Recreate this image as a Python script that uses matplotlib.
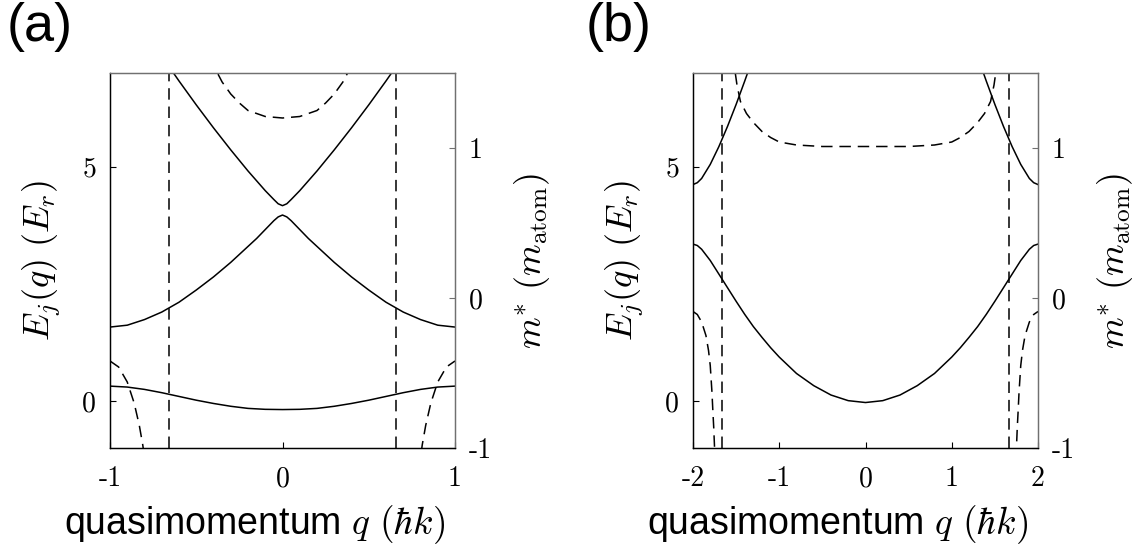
import numpy as np
import matplotlib
matplotlib.use("Agg")
import matplotlib.pyplot as plt

plt.rcParams["mathtext.fontset"] = "cm"
plt.rcParams["axes.unicode_minus"] = False

# ─────────────────────────────────────────────────────────────────────────────
# DATA
# ─────────────────────────────────────────────────────────────────────────────
# panel (a): q in [-1, 1]
QA1 = [-1.0, -0.9, -0.8, -0.7, -0.6, -0.5, -0.4, -0.3, -0.2, -0.1, 0.0,
       0.1, 0.2, 0.3, 0.4, 0.5, 0.6, 0.7, 0.8, 0.9, 1.0]
EA1 = [0.32, 0.30, 0.25, 0.18, 0.10, 0.02, -0.05, -0.11, -0.155, -0.175, -0.18,
       -0.175, -0.155, -0.11, -0.05, 0.02, 0.10, 0.18, 0.25, 0.30, 0.32]

QA2 = [-1.0, -0.9, -0.8, -0.7, -0.6, -0.5, -0.4, -0.3, -0.2, -0.15, -0.1, -0.05, -0.025, 0.0,
       0.025, 0.05, 0.1, 0.15, 0.2, 0.3, 0.4, 0.5, 0.6, 0.7, 0.8, 0.9, 1.0]
EA2 = [1.58, 1.62, 1.74, 1.90, 2.11, 2.37, 2.65, 2.96, 3.30, 3.47, 3.66, 3.85, 3.93, 3.97,
       3.93, 3.85, 3.66, 3.47, 3.30, 2.96, 2.65, 2.37, 2.11, 1.90, 1.74, 1.62, 1.58]

QA3 = [-0.7, -0.6, -0.5, -0.4, -0.3, -0.2, -0.15, -0.1, -0.05, -0.025, 0.0,
       0.025, 0.05, 0.1, 0.15, 0.2, 0.3, 0.4, 0.5, 0.6, 0.7]
EA3 = [7.36, 6.83, 6.32, 5.83, 5.36, 4.91, 4.70, 4.49, 4.30, 4.21, 4.17,
       4.21, 4.30, 4.49, 4.70, 4.91, 5.36, 5.83, 6.32, 6.83, 7.36]

# effective mass of the lowest band, panel (a)
QAM_L = [-1.0, -0.95, -0.9, -0.86, -0.83, -0.81, -0.79]
MA_L  = [-0.42, -0.46, -0.56, -0.70, -0.85, -0.98, -1.15]
QAM_C = [-0.45, -0.4, -0.35, -0.3, -0.25, -0.2, -0.1, 0.0, 0.1, 0.2, 0.25, 0.3, 0.35, 0.4, 0.45]
MA_C  = [1.72, 1.55, 1.44, 1.36, 1.30, 1.25, 1.21, 1.20, 1.21, 1.25, 1.30, 1.36, 1.44, 1.55, 1.72]
QAM_R = [0.79, 0.81, 0.83, 0.86, 0.9, 0.95, 1.0]
MA_R  = [-1.15, -0.98, -0.85, -0.70, -0.56, -0.46, -0.42]
QA_DIV = [-0.658, 0.658]

# panel (b): q in [-2, 2]
QB1 = [-2.0, -1.95, -1.9, -1.8, -1.7, -1.6, -1.5, -1.4, -1.3, -1.2, -1.1, -1.0, -0.8, -0.6, -0.4, -0.2, 0.0,
       0.2, 0.4, 0.6, 0.8, 1.0, 1.1, 1.2, 1.3, 1.4, 1.5, 1.6, 1.7, 1.8, 1.9, 1.95, 2.0]
EB1 = [3.35, 3.32, 3.24, 3.00, 2.71, 2.42, 2.13, 1.85, 1.59, 1.36, 1.14, 0.94, 0.59, 0.33, 0.13, 0.01, -0.03,
       0.01, 0.13, 0.33, 0.59, 0.94, 1.14, 1.36, 1.59, 1.85, 2.13, 2.42, 2.71, 3.00, 3.24, 3.32, 3.35]

QB2_L = [-2.0, -1.95, -1.9, -1.8, -1.7, -1.6, -1.5, -1.4, -1.3]
EB2_L = [4.62, 4.66, 4.75, 5.05, 5.43, 5.86, 6.33, 6.83, 7.35]
QB2_R = [1.3, 1.4, 1.5, 1.6, 1.7, 1.8, 1.9, 1.95, 2.0]
EB2_R = [7.35, 6.83, 6.33, 5.86, 5.43, 5.05, 4.75, 4.66, 4.62]

QBM_L = [-2.0, -1.95, -1.9, -1.85, -1.82, -1.8, -1.78, -1.77, -1.76, -1.75, -1.74]
MB_L  = [-0.09, -0.11, -0.16, -0.25, -0.35, -0.45, -0.63, -0.75, -0.86, -1.0, -1.2]
QBM_C = [-1.53, -1.51, -1.49, -1.45, -1.38, -1.3, -1.2, -1.1, -1.0, -0.8, -0.5, 0.0,
         0.5, 0.8, 1.0, 1.1, 1.2, 1.3, 1.38, 1.45, 1.49, 1.51, 1.53]
MB_C  = [1.62, 1.50, 1.42, 1.31, 1.23, 1.17, 1.11, 1.07, 1.04, 1.02, 1.01, 1.01,
         1.01, 1.02, 1.04, 1.07, 1.11, 1.17, 1.23, 1.31, 1.42, 1.50, 1.62]
QBM_R = [1.74, 1.75, 1.76, 1.77, 1.78, 1.8, 1.82, 1.85, 1.9, 1.95, 2.0]
MB_R  = [-1.2, -1.0, -0.86, -0.75, -0.63, -0.45, -0.35, -0.25, -0.16, -0.11, -0.09]
QB_DIV = [-1.667, 1.667]

# ─────────────────────────────────────────────────────────────────────────────
# FIGURE
# ─────────────────────────────────────────────────────────────────────────────
W, H = 1144, 548
fig = plt.figure(figsize=(W / 100, H / 100), dpi=100)

DASH   = (0, (7.5, 4.5))
LW     = 1.1
TICKFS = 20
CM     = "cmr10"
GREY   = "#707070"

panels = [
    dict(left=110, lab="(a)", lab_x=7, xlim=(-1, 1), xticks=[-1, 0, 1],
         bands=[(QA1, EA1), (QA2, EA2), (QA3, EA3)],
         mass=[(QAM_L, MA_L), (QAM_C, MA_C), (QAM_R, MA_R)], div=QA_DIV),
    dict(left=693, lab="(b)", lab_x=586, xlim=(-2, 2), xticks=[-2, -1, 0, 1, 2],
         bands=[(QB1, EB1), (QB2_L, EB2_L), (QB2_R, EB2_R)],
         mass=[(QBM_L, MB_L), (QBM_C, MB_C), (QBM_R, MB_R)], div=QB_DIV),
]

for p in panels:
    ax = fig.add_axes([p["left"] / W, 100 / H, 345 / W, 375 / H])
    ax2 = ax.twinx()

    for q, e in p["bands"]:
        ax.plot(q, e, color="black", lw=LW)
    for q, m in p["mass"]:
        ax2.plot(q, m, color="black", lw=LW, linestyle=DASH)
    for qd in p["div"]:
        ax.axvline(qd, color="black", lw=LW, linestyle=DASH)

    ax.set_xlim(*p["xlim"])
    ax.set_ylim(-1, 7)
    ax2.set_ylim(-1, 1.5)

    ax.set_xticks(p["xticks"])
    ax.set_xticklabels([str(t) for t in p["xticks"]], fontfamily=CM, fontsize=TICKFS)
    ax.set_yticks([0, 5])
    ax.set_yticklabels(["0", "5"], fontfamily=CM, fontsize=TICKFS)
    ax2.set_yticks([-1, 0, 1])
    ax2.set_yticklabels(["-1", "0", "1"], fontfamily=CM, fontsize=TICKFS)

    ax.tick_params(axis="x", direction="in", length=4, width=0.8, pad=13, top=False)
    ax.tick_params(axis="y", direction="in", length=4, width=0.8, pad=10, right=False)
    ax2.tick_params(axis="y", direction="in", length=4, width=0.8, pad=10, color=GREY)
    ax2.tick_params(axis="x", top=False)
    for a in (ax, ax2):
        for name, s in a.spines.items():
            s.set_linewidth(0.9)
            if name in ("top", "right"):
                s.set_color(GREY)

    ax.set_ylabel(r"$E_j(q)\ (E_r)$", fontsize=26, labelpad=14)
    ax2.set_ylabel(r"$m^{*}\ (m_{\rm atom})$", fontsize=26, labelpad=14)
    ax.set_xlabel(r"quasimomentum $q\ (\hbar k)$", fontsize=27,
                  fontfamily="Liberation Sans", labelpad=8)
    ax.xaxis.label.set_x(0.42)   # label sits a bit left of the axes centre

    fig.text(p["lab_x"] / W, 1 - 2 / H, p["lab"], fontsize=39,
             fontfamily="Liberation Sans", ha="left", va="top")

fig.savefig("out.png", dpi=100)
